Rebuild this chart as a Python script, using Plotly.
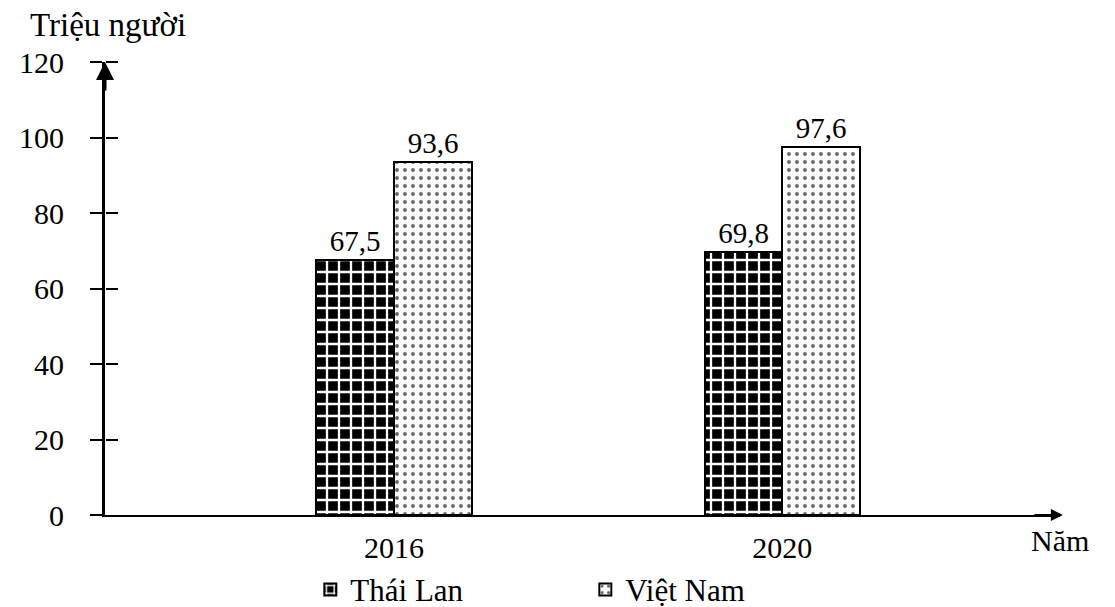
import plotly.graph_objects as go

years = ["2016", "2020"]
thai_lan = [67.5, 69.8]
viet_nam = [93.6, 97.6]
y_ticks = [0, 20, 40, 60, 80, 100, 120]

def vn_fmt(v):
    return f"{v:.1f}".replace(".", ",")

xpos = list(range(len(years)))
FONT = "Liberation Serif, Times New Roman, serif"

fig = go.Figure()
fig.add_trace(go.Bar(
    name="Thái Lan", x=xpos, y=thai_lan, width=0.2, offset=-0.2,
    text=[vn_fmt(v) for v in thai_lan], textposition="outside",
    textfont=dict(size=29, color="black", family=FONT), cliponaxis=False,
    marker=dict(color="black", line=dict(color="black", width=2),
                pattern=dict(shape="+", fgcolor="white", bgcolor="black",
                             size=12, solidity=0.35, fillmode="replace")),
))
fig.add_trace(go.Bar(
    name="Việt Nam", x=xpos, y=viet_nam, width=0.2, offset=0.0,
    text=[vn_fmt(v) for v in viet_nam], textposition="outside",
    textfont=dict(size=29, color="black", family=FONT), cliponaxis=False,
    marker=dict(color="white", line=dict(color="black", width=2),
                pattern=dict(shape=".", fgcolor="#666666", bgcolor="white",
                             size=8, solidity=0.18, fillmode="replace")),
))
# invisible helper trace so the overlay axis (right half of crossing ticks) is drawn
fig.add_trace(go.Scatter(x=xpos, y=viet_nam, yaxis="y2", mode="markers",
                         marker=dict(opacity=0), showlegend=False, hoverinfo="skip"))

# page body has an 8px margin, so the figure is shrunk and margins shifted by 8px
fig.update_layout(
    width=1107, height=599,
    margin=dict(l=97, r=55, t=54, b=92, autoexpand=False),
    paper_bgcolor="white", plot_bgcolor="white",
    font=dict(family=FONT, size=29, color="black"),
    showlegend=True,
    legend=dict(orientation="h", x=0.215, y=-0.165, xanchor="left", yanchor="middle",
                font=dict(size=31, family=FONT), entrywidth=230, itemwidth=30,
                bgcolor="rgba(0,0,0,0)"),
    bargap=0,
    yaxis=dict(range=[0, 120], tickvals=y_ticks, showgrid=False, zeroline=False,
               showline=True, linecolor="black", linewidth=3, automargin=False,
               ticks="outside", ticklen=12, tickwidth=2, tickcolor="black",
               ticklabelstandoff=20, tickfont=dict(size=30, family=FONT)),
    yaxis2=dict(overlaying="y", anchor="free", position=0, side="right",
                range=[0, 120], tickvals=y_ticks[1:], ticks="outside", ticklen=12,
                tickwidth=2, tickcolor="black", showticklabels=False,
                showline=False, showgrid=False, zeroline=False, automargin=False),
    xaxis=dict(range=[-0.745, 1.716], tickvals=xpos, ticktext=years,
               showgrid=False, zeroline=False, showline=True, automargin=False,
               linecolor="black", linewidth=2, ticks="", ticklabelstandoff=5,
               tickfont=dict(size=30, family=FONT)),
)

# axis arrows
fig.add_annotation(x=0, y=1.0, xref="paper", yref="paper", ax=0, ay=30,
                   axref="pixel", ayref="pixel", showarrow=True, arrowhead=2,
                   arrowsize=1.2, arrowwidth=3, arrowcolor="black", text="")
fig.add_annotation(x=1.003, y=0, xref="paper", yref="paper", ax=-30, ay=0,
                   axref="pixel", ayref="pixel", showarrow=True, arrowhead=2,
                   arrowsize=1.2, arrowwidth=2, arrowcolor="black", text="")
fig.add_annotation(x=-0.081, y=1.125, xref="paper", yref="paper", text="Triệu người",
                   showarrow=False, xanchor="left", yanchor="top",
                   font=dict(size=33, family=FONT))
fig.add_annotation(x=0.968, y=-0.015, xref="paper", yref="paper", text="Năm",
                   showarrow=False, xanchor="left", yanchor="top",
                   font=dict(size=30, family=FONT))

fig.write_html("out.html")
